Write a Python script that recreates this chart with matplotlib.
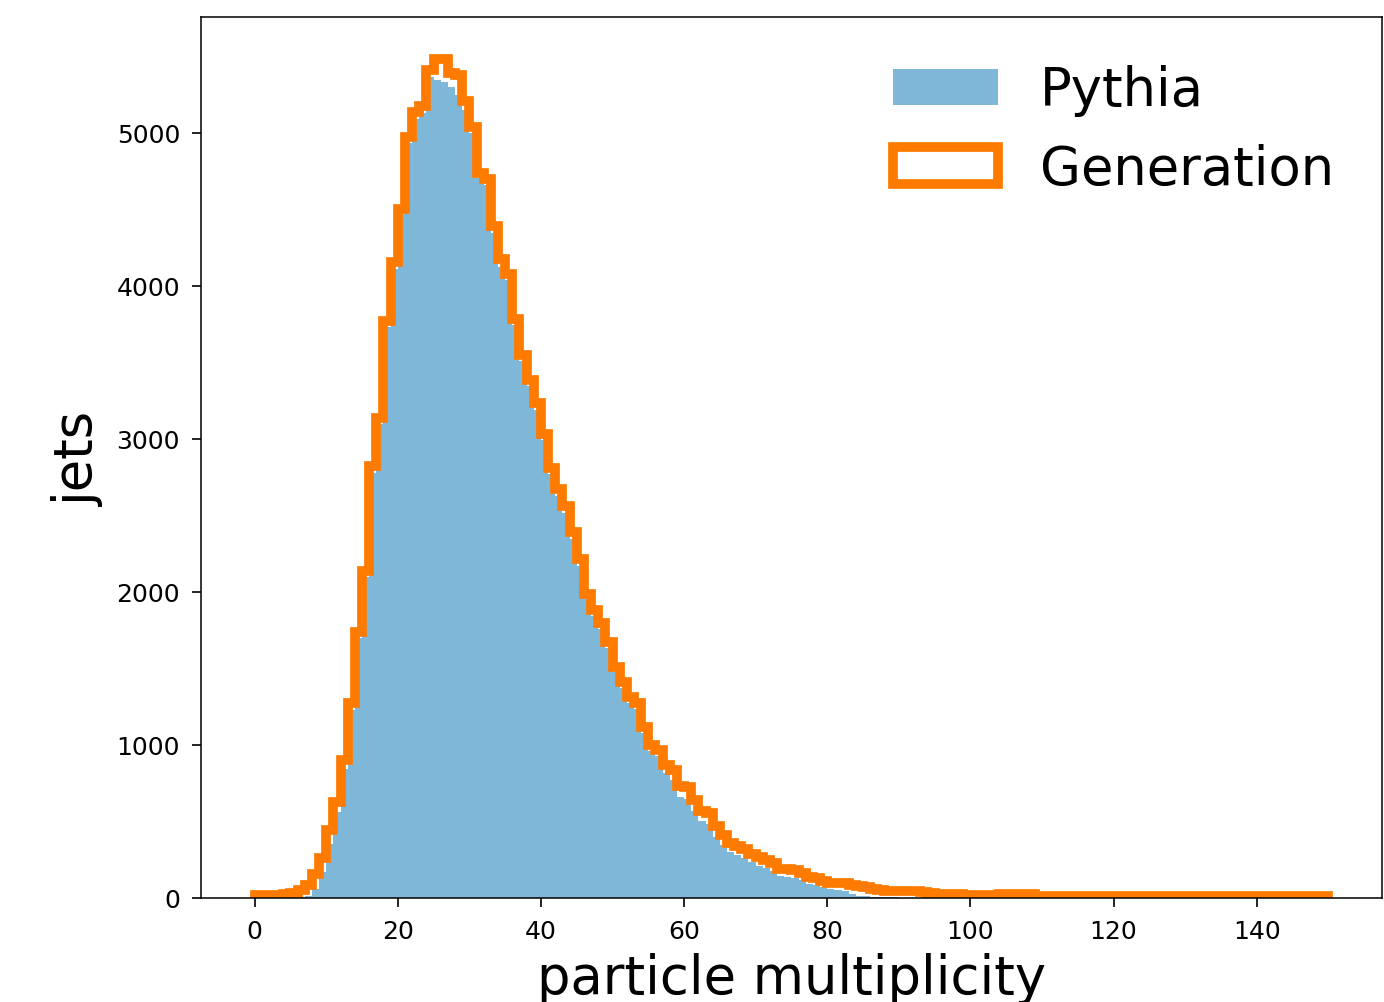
import numpy as np
import matplotlib
matplotlib.use("Agg")
import matplotlib.pyplot as plt

# multiplicity bins: 150 unit-width bins from 0 to 150
bin_edges = np.arange(0, 151, 1)

# jet counts per multiplicity bin
pythia_counts = [
    0, 0, 0, 0, 1, 2, 5, 15, 60, 170,
    350, 560, 840, 1230, 1700, 2100, 2780, 3100, 3730, 4110,
    4470, 4932, 5091, 5128, 5367, 5346, 5331, 5300, 5250, 5150,
    4998, 4704, 4661, 4345, 4127, 4040, 3747, 3507, 3344, 3192,
    2996, 2768, 2626, 2518, 2343, 2169, 1952, 1843, 1756, 1636,
    1480, 1375, 1277, 1234, 1080, 961, 929, 820, 770, 660,
    650, 570, 500, 485, 400, 345, 300, 280, 262, 232,
    210, 195, 175, 145, 140, 132, 118, 90, 84, 70,
    60, 50, 45, 25, 15, 12, 8, 6, 5, 4,
    3, 2, 2, 2, 2, 2, 1, 1, 1, 1,
] + [0] * 50

generated_counts = [
    20, 20, 20, 22, 25, 33, 50, 87, 159, 261,
    446, 628, 900, 1272, 1741, 2140, 2824, 3135, 3770, 4156,
    4504, 4976, 5135, 5178, 5409, 5484, 5484, 5390, 5376, 5211,
    5037, 4740, 4700, 4392, 4178, 4080, 3786, 3546, 3383, 3236,
    3035, 2813, 2676, 2563, 2389, 2213, 1985, 1885, 1800, 1671,
    1512, 1414, 1316, 1273, 1116, 1001, 964, 866, 838, 729,
    725, 640, 570, 555, 468, 410, 360, 340, 320, 290,
    265, 250, 228, 192, 188, 180, 165, 135, 128, 110,
    100, 98, 95, 85, 76, 70, 59, 50, 48, 46,
    48, 45, 44, 38, 35, 28, 25, 24, 23, 22,
    22, 22, 21, 22, 26, 25, 26, 25, 24, 14,
] + [10] * 40

centers = 0.5 * (bin_edges[:-1] + bin_edges[1:])

fig = plt.figure(figsize=(13.84, 10.03), dpi=100)
ax = fig.add_axes([0.1452, 0.1037, 0.8533, 0.8784])

ax.hist(centers, bins=bin_edges, weights=pythia_counts,
        histtype="stepfilled", color="#7fb7d8", label="Pythia")
ax.hist(centers, bins=bin_edges, weights=generated_counts,
        histtype="step", color="#ff7b00", linewidth=7, label="Generation")

ax.set_xlabel("particle multiplicity", fontsize=38, labelpad=6.5)
ax.set_ylabel("jets", fontsize=38, labelpad=9)
ax.set_xticks(np.arange(0, 141, 20))
ax.set_yticks(np.arange(0, 5001, 1000))
ax.tick_params(labelsize=18, length=6.5, width=1.2, pad=8.5)
for s in ax.spines.values():
    s.set_linewidth(1.1)

ax.legend(loc="upper right", fontsize=38, frameon=False)

fig.savefig("out.png", dpi=100)
